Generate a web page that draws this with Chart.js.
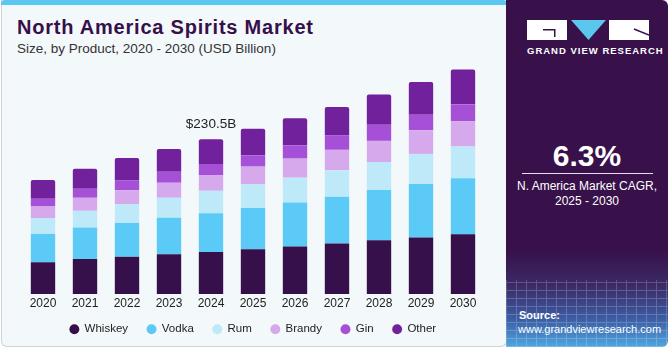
<!DOCTYPE html>
<html>
<head>
<meta charset="utf-8">
<script src="https://cdn.jsdelivr.net/npm/chart.js@4.4.1/dist/chart.umd.min.js"></script>
<style>
  html, body { margin: 0; padding: 0; }
  body { width: 671px; height: 350px; position: relative; overflow: hidden; background: #ffffff; font-family: "Liberation Sans", Arial, sans-serif; }
  #left { position: absolute; left: 1px; top: 0; width: 504px; height: 346px; background: #f3f8fb; border: 1px solid #cfd3d6; border-radius: 0 0 6px 6px; border-top: none; }
  #stripe { position: absolute; left: 1px; top: 0; width: 506px; height: 5px; background: #5bc6ee; border-radius: 4px 4px 0 0; }
  #title { position: absolute; left: 17px; top: 16px; font-size: 20px; font-weight: bold; letter-spacing: 0.78px; color: #36104a; white-space: nowrap; }
  #subtitle { position: absolute; left: 17px; top: 41px; font-size: 13.5px; color: #333; white-space: nowrap; }
  #chartBox { position: absolute; left: 0; top: 0; width: 506px; height: 350px; }
  #right { position: absolute; left: 506px; top: 0; width: 162px; height: 347px; border-radius: 0 6px 6px 0;
    background: linear-gradient(#38114a 0px, #38114a 250px, #3b2a66 285px, #3d5fa6 320px, #4fa7e0 347px); overflow: hidden; }
  #grid { position: absolute; left: 0; top: 280px; width: 162px; height: 67px; opacity: 0.2;
    background-image: repeating-linear-gradient(0deg, #ffffff 0 1px, transparent 1px 8px), repeating-linear-gradient(90deg, #ffffff 0 1px, transparent 1px 10px); }
  #brand { position: absolute; left: 21px; top: 45px; width: 122px; text-align: center; color: #fff; font-size: 9.5px; font-weight: bold; letter-spacing: 1px; white-space: nowrap; }
  #cagr { position: absolute; left: 0; top: 139px; width: 162px; text-align: center; color: #fff; font-size: 30px; font-weight: bold; }
  #rule { position: absolute; left: 16px; top: 173px; width: 131px; height: 1px; background: #e8e0ee; }
  #cagrText { position: absolute; left: 0; top: 179px; width: 162px; text-align: center; color: #fff; font-size: 12px; line-height: 15px; }
  #src1 { position: absolute; left: 13px; top: 309px; color: #fff; font-size: 11px; font-weight: bold; }
  #src2 { position: absolute; left: 12px; top: 323px; color: #fff; font-size: 11px; }
</style>
</head>
<body>
<div id="left"></div>
<div id="stripe"></div>
<div id="title">North America Spirits Market</div>
<div id="subtitle">Size, by Product, 2020 - 2030 (USD Billion)</div>
<div id="chartBox"><canvas id="chart" width="506" height="350"></canvas></div>
<div id="right">
  <div id="grid"></div>
  <svg style="position:absolute;left:21px;top:20px" width="122" height="20" viewBox="0 0 122 20">
    <rect x="0" y="0" width="40" height="20" fill="#ffffff"/>
    <rect x="16" y="9" width="12" height="1.5" fill="#38114a"/>
    <rect x="27" y="9" width="1.5" height="8" fill="#38114a"/>
    <polygon points="44,0 79,0 61.5,20" fill="#5bc6ee"/>
    <rect x="82" y="0" width="40" height="20" fill="#ffffff"/>
    <line x1="107" y1="9" x2="122" y2="15" stroke="#38114a" stroke-width="1.5"/>
  </svg>
  <div id="brand">GRAND VIEW RESEARCH</div>
  <div id="cagr">6.3%</div>
  <div id="rule"></div>
  <div id="cagrText">N. America Market CAGR,<br>2025 - 2030</div>
  <div id="src1">Source:</div>
  <div id="src2">www.grandviewresearch.com</div>
</div>

<script>
const years = ['2020', '2021', '2022', '2023', '2024', '2025', '2026', '2027', '2028', '2029', '2030'];
const whiskey = [47.4, 52.3, 55.7, 59.3, 62.7, 66.8, 70.7, 75.2, 80.2, 84.1, 89.2];
const vodka = [42.3, 46.8, 50.3, 54.2, 57.8, 61.3, 65.7, 69.8, 74.7, 79.8, 83.1];
const rum = [23.4, 24.9, 27.9, 29.9, 33.3, 35.3, 36.9, 39.3, 41.8, 44.8, 47.4];
const brandy = [17.3, 19.4, 20.9, 22.4, 22.9, 26.4, 28.4, 30.5, 31.4, 35.3, 37.4];
const gin = [11.5, 13.4, 14.9, 16.4, 17.0, 16.4, 19.9, 21.4, 23.9, 23.0, 25.4];
const other = [27.9, 29.9, 32.9, 33.9, 36.8, 39.9, 40.3, 42.3, 45.3, 48.7, 51.8];
const calloutIndex = 4;
const calloutText = '$230.5B';

const calloutPlugin = {
  id: 'callout',
  afterDatasetsDraw(chart) {
    const ctx = chart.ctx;
    let total = 0;
    chart.data.datasets.forEach(function (ds) { total += ds.data[calloutIndex]; });
    const x = chart.scales.x.getPixelForValue(calloutIndex);
    const y = chart.scales.y.getPixelForValue(total);
    ctx.save();
    ctx.font = '13.5px "Liberation Sans", Arial, sans-serif';
    ctx.fillStyle = '#222';
    ctx.textAlign = 'center';
    ctx.textBaseline = 'bottom';
    ctx.fillText(calloutText, x, y - 8);
    ctx.restore();
  }
};

// pull the legend up closer to the year labels
const legendShift = 8;
const legendPlugin = {
  id: 'legendShift',
  afterInit(chart) {
    const l = chart.legend;
    const fit = l.fit;
    l.fit = function () { fit.call(this); this.height -= legendShift; };
  },
  afterLayout(chart) {
    chart.legend.top -= legendShift;
    chart.legend.bottom -= legendShift;
  }
};

function ds(label, data, color) {
  return { label: label, data: data, backgroundColor: color, borderWidth: 0, barPercentage: 0.58, categoryPercentage: 1 };
}

const datasets = [
  ds('Whiskey', whiskey, '#36104a'),
  ds('Vodka', vodka, '#5ccaf6'),
  ds('Rum', rum, '#bde9f9'),
  ds('Brandy', brandy, '#d6a9ec'),
  ds('Gin', gin, '#a650d7'),
  ds('Other', other, '#70219b')
];
datasets[5].borderRadius = { topLeft: 2, topRight: 2 };
datasets[5].borderSkipped = 'bottom';

new Chart(document.getElementById('chart').getContext('2d'), {
  type: 'bar',
  data: { labels: years, datasets: datasets },
  options: {
    responsive: false,
    animation: false,
    devicePixelRatio: 1,
    layout: { padding: { left: 22, right: 22, top: 59, bottom: 5 } },
    scales: {
      x: {
        stacked: true,
        grid: { display: false, drawTicks: false },
        border: { display: false },
        ticks: { color: '#222', font: { size: 12, family: '"Liberation Sans", Arial, sans-serif' }, padding: 2 }
      },
      y: { stacked: true, display: false, min: 0, max: 350 }
    },
    plugins: {
      legend: {
        position: 'bottom',
        labels: {
          usePointStyle: true,
          pointStyle: 'circle',
          boxWidth: 9,
          boxHeight: 7,
          padding: 19,
          color: '#222',
          font: { size: 11.5, family: '"Liberation Sans", Arial, sans-serif' }
        }
      },
      tooltip: { enabled: false }
    }
  },
  plugins: [calloutPlugin, legendPlugin]
});
</script>
</body>
</html>
